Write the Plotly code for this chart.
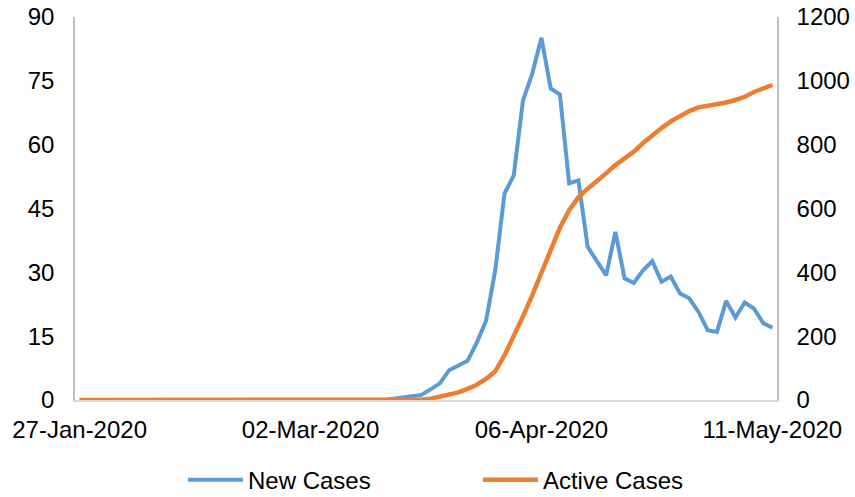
import pandas as pd
import plotly.graph_objects as go

# Weekday categories from 27-Jan-2020 to 11-May-2020
dates = [d.strftime("%d-%b-%Y") for d in pd.bdate_range("2020-01-27", "2020-05-11")]
tick_labels = ["27-Jan-2020", "02-Mar-2020", "06-Apr-2020", "11-May-2020"]

new_cases = [0] * 34 + [
    0.3, 0.6, 1.0, 1.2, 2.5, 3.9, 7.0, 8.1, 9.2, 13.5,
    18.6, 30.5, 48.5, 52.8, 70.4, 76.7, 85.1, 73.2, 71.8, 50.9,
    51.6, 36.0, 32.7, 29.3, 39.5, 28.6, 27.5, 30.5, 32.6, 27.8,
    29.0, 25.0, 23.9, 20.7, 16.4, 16.0, 23.3, 19.4, 22.9, 21.5,
    18.1, 17.0,
]
active_cases = [0] * 37 + [
    1, 4, 10, 15, 24, 35, 48, 66, 90, 140,
    198, 262, 328, 400, 470, 540, 595, 635, 662, 685,
    710, 736, 757, 778, 805, 830, 852, 873, 890, 905,
    917, 921, 926, 932, 940, 950, 965, 977, 987,
]
left_ticks = [0, 15, 30, 45, 60, 75, 90]
right_ticks = [0, 200, 400, 600, 800, 1000, 1200]

FONT = "Liberation Sans, Arial, sans-serif"

fig = go.Figure()
fig.add_trace(go.Scatter(x=dates, y=new_cases, name="New Cases", mode="lines",
                         line=dict(color="#5B9BD5", width=4)))
fig.add_trace(go.Scatter(x=dates, y=active_cases, name="Active Cases", mode="lines",
                         line=dict(color="#ED7D31", width=4.5), yaxis="y2"))

fig.update_layout(
    width=855, height=497,
    margin=dict(l=75, r=78, t=17, b=97, autoexpand=False),
    paper_bgcolor="white", plot_bgcolor="white",
    font=dict(family=FONT, size=24, color="#000000"),
    showlegend=True,
    legend=dict(orientation="h", x=0.574, xanchor="center",
                yref="container", y=0.034, yanchor="middle",
                font=dict(size=24), entrywidth=225, entrywidthmode="pixels",
                itemwidth=55, traceorder="normal"),
    xaxis=dict(type="category", categoryorder="array", categoryarray=dates,
               tickvals=tick_labels, ticktext=tick_labels, range=[-0.5, len(dates) - 0.5],
               showgrid=False, zeroline=False, showline=True, linecolor="#d9d9d9",
               linewidth=2, ticks="", ticklabelstandoff=7, tickangle=0, automargin=False),
    yaxis=dict(range=[0, 90], tickvals=left_ticks, showgrid=False, zeroline=False,
               showline=True, linecolor="#bfbfbf", linewidth=1.5, ticks="",
               ticklabelstandoff=14, automargin=False),
    yaxis2=dict(range=[0, 1200], tickvals=right_ticks, overlaying="y", side="right",
                showgrid=False, zeroline=False, showline=True, linecolor="#bfbfbf",
                linewidth=1.5, ticks="", ticklabelstandoff=13, automargin=False),
)

fig.write_html(
    "out.html",
    config={"displayModeBar": False},
    post_script="document.body.style.margin='0';document.body.style.overflow='hidden';",
)
